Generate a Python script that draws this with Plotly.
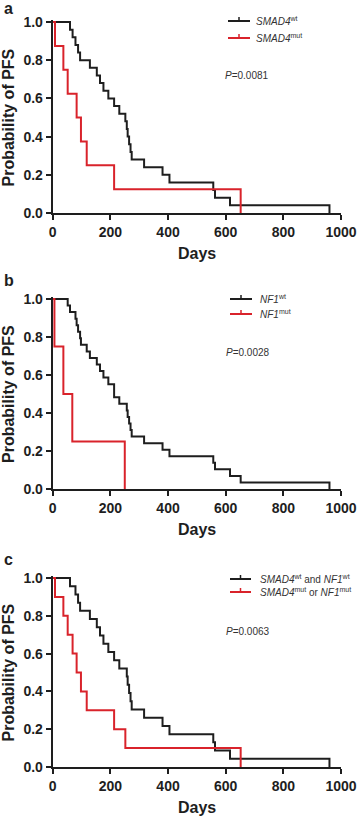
import plotly.graph_objects as go

# ---------------- data (event times in days) ----------------
smad4_wt_times = [60, 69, 79, 88, 95, 129, 153, 164, 176, 193, 213, 231, 252, 257, 260,
                  265, 270, 274, 317, 381, 405, 557, 563, 615, 960]
smad4_mut_times = [8, 37, 52, 83, 98, 118, 213, 652]

nf1_wt_times = [52, 60, 79, 83, 88, 95, 98, 118, 129, 153, 164, 176, 193, 213, 213,
                231, 257, 260, 265, 270, 274, 317, 381, 405, 557, 563, 615, 652, 960]
nf1_mut_times = [6, 37, 68, 250]

both_wt_times = [60, 79, 88, 95, 129, 153, 164, 176, 193, 213, 231, 257, 260, 265,
                 270, 274, 317, 381, 405, 557, 563, 615, 960]
any_mut_times = [8, 37, 52, 69, 83, 98, 118, 213, 252, 652]

panel_labels = ["a", "b", "c"]
legend_wt = ["<i>SMAD4</i><sup>wt</sup>", "<i>NF1</i><sup>wt</sup>",
             "<i>SMAD4</i><sup>wt</sup> and <i>NF1</i><sup>wt</sup>"]
legend_mut = ["<i>SMAD4</i><sup>mut</sup>", "<i>NF1</i><sup>mut</sup>",
              "<i>SMAD4</i><sup>mut</sup> or <i>NF1</i><sup>mut</sup>"]
p_values = ["0.0081", "0.0028", "0.0063"]
x_ticks = [0, 200, 400, 600, 800, 1000]
y_ticks = [0.0, 0.2, 0.4, 0.6, 0.8, 1.0]

groups = [(smad4_wt_times, smad4_mut_times),
          (nf1_wt_times, nf1_mut_times),
          (both_wt_times, any_mut_times)]

# ---------------- layout geometry (pixels) ----------------
W, H = 358, 817
X0, X1 = 52.7, 341.0
panels_px = [(22, 213), (299, 489), (578, 767)]   # pixel y of 1.0 and 0.0
label_y = [8, 280, 559]
leg_y = [(21, 38), (299, 314), (579, 592)]
leg_x = [(228, 250, 254), (230, 252, 258), (230, 251, 258)]
p_y = [76, 352, 631]
p_x = [223, 224, 224]

BLACK = "#1e1e1e"
RED = "#d9232b"
FONT = "Arial, Liberation Sans, sans-serif"


def fx(px):
    return px / W


def fy(py):
    return 1 - py / H


def km(times):
    t = sorted(times)
    n = len(t)
    xs, ys = [0], [1.0]
    for i, ti in enumerate(t):
        xs.append(ti)
        ys.append((n - i - 1) / n)
    return xs, ys


fig = go.Figure()
shapes, annotations = [], []

for k, (wt, mut) in enumerate(groups):
    top, bot = panels_px[k]
    span = bot - top
    xa = "xaxis" if k == 0 else f"xaxis{k+1}"
    ya = "yaxis" if k == 0 else f"yaxis{k+1}"
    xr = "x" if k == 0 else f"x{k+1}"
    yr = "y" if k == 0 else f"y{k+1}"

    for times, col in ((wt, BLACK), (mut, RED)):
        xs, ys = km(times)
        fig.add_trace(go.Scatter(x=xs, y=ys, mode="lines", line=dict(color=col, width=2, shape="hv"),
                                 xaxis=xr, yaxis=yr, showlegend=False, hoverinfo="skip"))

    fig.update_layout(**{
        xa: dict(domain=[fx(X0), fx(X1)], range=[0, 1000], anchor=yr, automargin=False,
                 tickvals=x_ticks, ticks="outside", ticklen=5, tickwidth=2, tickcolor=BLACK,
                 showline=True, linecolor=BLACK, linewidth=2, showgrid=False, zeroline=False,
                 tickfont=dict(family=FONT, size=14, color=BLACK, weight="bold")),
        ya: dict(domain=[fy(bot), fy(top - 0.012 * span)], range=[0, 1.012], anchor=xr,
                 automargin=False,
                 tickvals=y_ticks, ticktext=[f"{v:.1f}" for v in y_ticks],
                 ticks="outside", ticklen=5, tickwidth=2, tickcolor=BLACK,
                 showline=True, linecolor=BLACK, linewidth=2, showgrid=False, zeroline=False,
                 tickfont=dict(family=FONT, size=14, color=BLACK, weight="bold")),
    })

    # axis titles
    annotations.append(dict(text="Days", x=fx((X0 + X1) / 2), y=fy(bot + 40), xref="paper", yref="paper",
                            showarrow=False, xanchor="center", yanchor="middle",
                            font=dict(family=FONT, size=16, color=BLACK, weight="bold")))
    annotations.append(dict(text="Probability of PFS", x=fx(8), y=fy((top + bot) / 2), xref="paper",
                            yref="paper", showarrow=False, textangle=-90, xanchor="center", yanchor="middle",
                            font=dict(family=FONT, size=16, color=BLACK, weight="bold")))
    # panel label
    annotations.append(dict(text=panel_labels[k], x=fx(2), y=fy(label_y[k]), xref="paper", yref="paper",
                            showarrow=False, xanchor="left", yanchor="middle",
                            font=dict(family=FONT, size=16, color=BLACK, weight="bold")))
    # legend
    lx0, lx1, tx = leg_x[k]
    for (ly, col, txt) in ((leg_y[k][0], BLACK, legend_wt[k]), (leg_y[k][1], RED, legend_mut[k])):
        shapes.append(dict(type="line", xref="paper", yref="paper", x0=fx(lx0), x1=fx(lx1),
                           y0=fy(ly), y1=fy(ly), line=dict(color=col, width=2)))
        cx = (lx0 + lx1) / 2
        shapes.append(dict(type="line", xref="paper", yref="paper", x0=fx(cx), x1=fx(cx),
                           y0=fy(ly - 4), y1=fy(ly), line=dict(color=col, width=1.5)))
        annotations.append(dict(text=txt, x=fx(tx), y=fy(ly), xref="paper", yref="paper",
                                showarrow=False, xanchor="left", yanchor="middle",
                                font=dict(family=FONT, size=10, color="#333333")))
    annotations.append(dict(text=f"<i>P</i>={p_values[k]}", x=fx(p_x[k]), y=fy(p_y[k]),
                            xref="paper", yref="paper", showarrow=False, xanchor="left",
                            yanchor="middle", font=dict(family=FONT, size=10, color="#333333")))

fig.update_layout(width=W, height=H, margin=dict(l=0, r=0, t=0, b=0),
                  paper_bgcolor="white", plot_bgcolor="white",
                  shapes=shapes, annotations=annotations, showlegend=False)

fig.write_html("out.html", config={"displayModeBar": False, "staticPlot": True},
               post_script="document.body.style.margin='0';document.body.style.overflow='hidden';")
